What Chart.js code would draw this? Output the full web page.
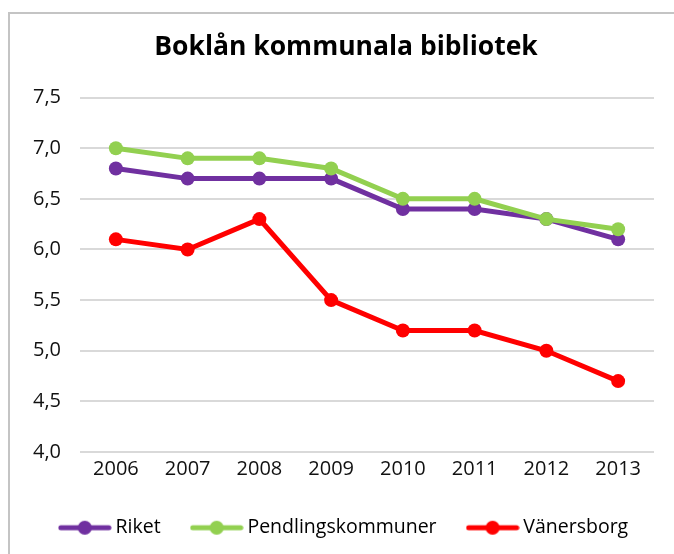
<!DOCTYPE html>
<html>
<head>
<meta charset="utf-8">
<script src="https://cdn.jsdelivr.net/npm/chart.js@4.4.0/dist/chart.umd.min.js"></script>
<style>
  html, body { margin: 0; padding: 0; background: #fff; overflow: hidden; }
  #ram { position: absolute; left: 8px; top: 12px; width: 720px; height: 600px; border: 2px solid #c4c4c4; }
  #wrap { position: absolute; left: 0; top: 0; width: 674px; height: 554px; }
</style>
</head>
<body>
<div id="ram"></div>
<div id="wrap"><canvas id="chart" width="674" height="554"></canvas></div>
<script>
// Data
const years = ['2006', '2007', '2008', '2009', '2010', '2011', '2012', '2013'];
const riket = [6.8, 6.7, 6.7, 6.7, 6.4, 6.4, 6.3, 6.1];
const pendling = [7.0, 6.9, 6.9, 6.8, 6.5, 6.5, 6.3, 6.2];
const vanersborg = [6.1, 6.0, 6.3, 5.5, 5.2, 5.2, 5.0, 4.7];
const seriesNames = ['Riket', 'Pendlingskommuner', 'Vänersborg'];
const seriesColors = ['#7030a0', '#92d050', '#ff0000'];

// liten bild for legenden: linje med punkt i mitten
function legendIcon(color) {
    const c = document.createElement('canvas');
    c.width = 54; c.height = 16;
    const g = c.getContext('2d');
    g.strokeStyle = color;
    g.lineWidth = 5;
    g.lineCap = 'round';
    g.beginPath();
    g.moveTo(3, 8); g.lineTo(51, 8);
    g.stroke();
    g.fillStyle = color;
    g.beginPath();
    g.arc(27, 8, 7, 0, Math.PI * 2);
    g.fill();
    return c;
}

function makeDataset(i, values, order) {
    return {
        label: seriesNames[i],
        data: values,
        borderColor: seriesColors[i],
        backgroundColor: seriesColors[i],
        pointBackgroundColor: seriesColors[i],
        borderWidth: 5,
        pointRadius: 7,
        pointBorderWidth: 0,
        tension: 0,
        yAxisID: 'y',
        order: order
    };
}

const ctx = document.getElementById('chart').getContext('2d');
new Chart(ctx, {
    type: 'line',
    data: {
        labels: years,
        datasets: [
            makeDataset(0, riket, 3),
            makeDataset(1, pendling, 2),
            makeDataset(2, vanersborg, 1)
        ]
    },
    options: {
        responsive: false,
        animation: false,
        layout: { padding: { left: 26, right: 8, top: 14, bottom: 6.5 } },
        plugins: {
            title: {
                display: true,
                text: 'Boklån kommunala bibliotek',
                color: '#000',
                font: { family: 'Open Sans', size: 26.5, weight: 'bold' },
                padding: { top: 17.4, bottom: 34.4 }
            },
            legend: {
                position: 'bottom',
                align: 'center',
                labels: {
                    usePointStyle: true,
                    pointStyleWidth: 42,
                    padding: 35,
                    color: '#111',
                    font: { family: 'Open Sans', size: 19.5 },
                    generateLabels: function(chart) {
                        return chart.data.datasets.map((ds, i) => ({
                            text: ds.label,
                            pointStyle: legendIcon(seriesColors[i]),
                            fillStyle: seriesColors[i],
                            strokeStyle: seriesColors[i],
                            lineWidth: 0,
                            hidden: false,
                            datasetIndex: i
                        }));
                    }
                }
            },
            tooltip: { enabled: false }
        },
        scales: {
            x: {
                offset: true,
                grid: { display: false, drawTicks: false },
                border: { display: false },
                ticks: {
                    color: '#111',
                    padding: 5,
                    font: { family: 'Open Sans', size: 20 }
                },
                afterFit: function(axis) { axis.height = 31; }
            },
            y: {
                min: 4,
                max: 7.5,
                grid: { color: '#d9d9d9', lineWidth: 2, drawTicks: false },
                border: { display: false },
                ticks: {
                    stepSize: 0.5,
                    padding: 19,
                    color: '#111',
                    font: { family: 'Open Sans', size: 20 },
                    callback: function(value) { return value.toFixed(1).replace('.', ','); }
                },
                afterFit: function(axis) { axis.width = 54; }
            },
            // tom axel till hoger, bara for marginalen
            hoger: {
                type: 'linear',
                position: 'right',
                grid: { display: false, drawTicks: false },
                border: { display: false },
                ticks: { display: false },
                afterFit: function(axis) { axis.width = 12; }
            }
        }
    }
});
</script>
</body>
</html>
